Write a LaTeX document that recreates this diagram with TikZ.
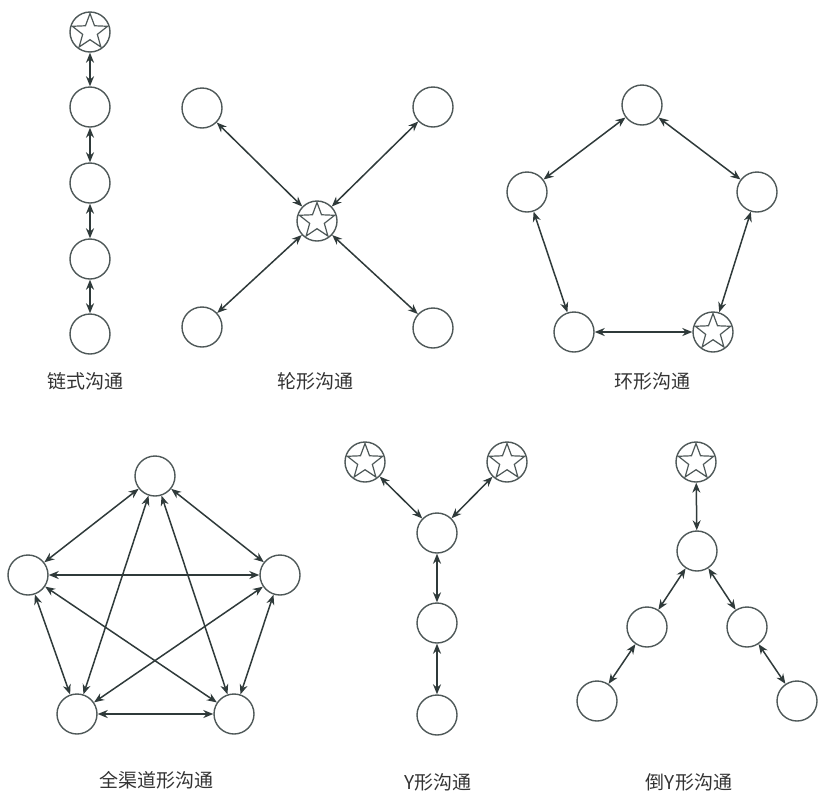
\documentclass[tikz,border=0pt]{standalone}
\usepackage{fontspec}
\newfontfamily\cjk{Noto Sans CJK SC}
\usepackage{tikz}
\usetikzlibrary{arrows,arrows.meta,shapes.geometric}
\definecolor{inkline}{HTML}{2F3A3A}
\tikzset{
 unit/.style={circle,draw=inkline!85,line width=0.7pt,minimum size=20pt,inner sep=0pt},
 hub/.style={unit,label={[star,star points=5,star point ratio=2.4,draw=inkline!85,line width=0.6pt,minimum size=18.5pt,inner sep=0pt]center:{}}},
 link/.style={{Stealth[length=5pt,width=4pt,inset=1.6pt]}-{Stealth[length=5pt,width=4pt,inset=1.6pt]},draw=inkline,line width=0.75pt},
 caption/.style={font=\cjk\fontsize{9.5}{11}\selectfont,text=black!80}
}

\begin{document}
\begin{tikzpicture}[x=0.5pt,y=-0.5pt]
 \useasboundingbox (0,0) rectangle (818,793);
 % chain
 \node[hub]  (C0) at (90,32)  {};
 \node[unit] (C1) at (90,107) {};
 \node[unit] (C2) at (90,183) {};
 \node[unit] (C3) at (90,259) {};
 \node[unit] (C4) at (90,334) {};
 \draw[link] (C0) to (C1);
 \draw[link] (C1) to (C2);
 \draw[link] (C2) to (C3);
 \draw[link] (C3) to (C4);
 \node[caption] (Lc) at (85,381) {链式沟通};
 % wheel
 \node[hub]  (W0) at (317,221) {};
 \node[unit] (W1) at (202,108) {};
 \node[unit] (W2) at (433,107) {};
 \node[unit] (W3) at (202,327) {};
 \node[unit] (W4) at (433,328) {};
 \draw[link] (W0) to (W1);
 \draw[link] (W0) to (W2);
 \draw[link] (W0) to (W3);
 \draw[link] (W0) to (W4);
 \node[caption] (Lw) at (315,381) {轮形沟通};
 % ring
 \node[unit] (R1) at (642,105) {};
 \node[unit] (R2) at (527,192) {};
 \node[unit] (R3) at (757,192) {};
 \node[unit] (R4) at (574,332) {};
 \node[hub]  (R5) at (713,332) {};
 \draw[link] (R1) to (R2);
 \draw[link] (R1) to (R3);
 \draw[link] (R2) to (R4);
 \draw[link] (R3) to (R5);
 \draw[link] (R4) to (R5);
 \node[caption] (Lr) at (652,381) {环形沟通};
 % all channel
 \node[unit] (F1) at (155,476) {};
 \node[unit] (F2) at (28,575)  {};
 \node[unit] (F3) at (280,575) {};
 \node[unit] (F4) at (77,714)  {};
 \node[unit] (F5) at (234,714) {};
 \draw[link] (F1) to (F2);
 \draw[link] (F1) to (F3);
 \draw[link] (F1) to (F4);
 \draw[link] (F1) to (F5);
 \draw[link] (F2) to (F3);
 \draw[link] (F2) to (F4);
 \draw[link] (F2) to (F5);
 \draw[link] (F3) to (F4);
 \draw[link] (F3) to (F5);
 \draw[link] (F4) to (F5);
 \node[caption] (Lf) at (156,780) {全渠道形沟通};
 % Y
 \node[hub]  (Y1) at (365,462) {};
 \node[hub]  (Y2) at (507,462) {};
 \node[unit] (Y3) at (437,533) {};
 \node[unit] (Y4) at (437,623) {};
 \node[unit] (Y5) at (437,715) {};
 \draw[link] (Y1) to (Y3);
 \draw[link] (Y2) to (Y3);
 \draw[link] (Y3) to (Y4);
 \draw[link] (Y4) to (Y5);
 \node[caption] (Ly) at (438,782) {Y形沟通};
 % inverted Y
 \node[hub]  (V1) at (696,462) {};
 \node[unit] (V2) at (697,551) {};
 \node[unit] (V3) at (647,627) {};
 \node[unit] (V4) at (747,627) {};
 \node[unit] (V5) at (597,701) {};
 \node[unit] (V6) at (797,701) {};
 \draw[link] (V1) to (V2);
 \draw[link] (V2) to (V3);
 \draw[link] (V2) to (V4);
 \draw[link] (V3) to (V5);
 \draw[link] (V4) to (V6);
 \node[caption] (Lv) at (689,782) {倒Y形沟通};
\end{tikzpicture}
\end{document}
